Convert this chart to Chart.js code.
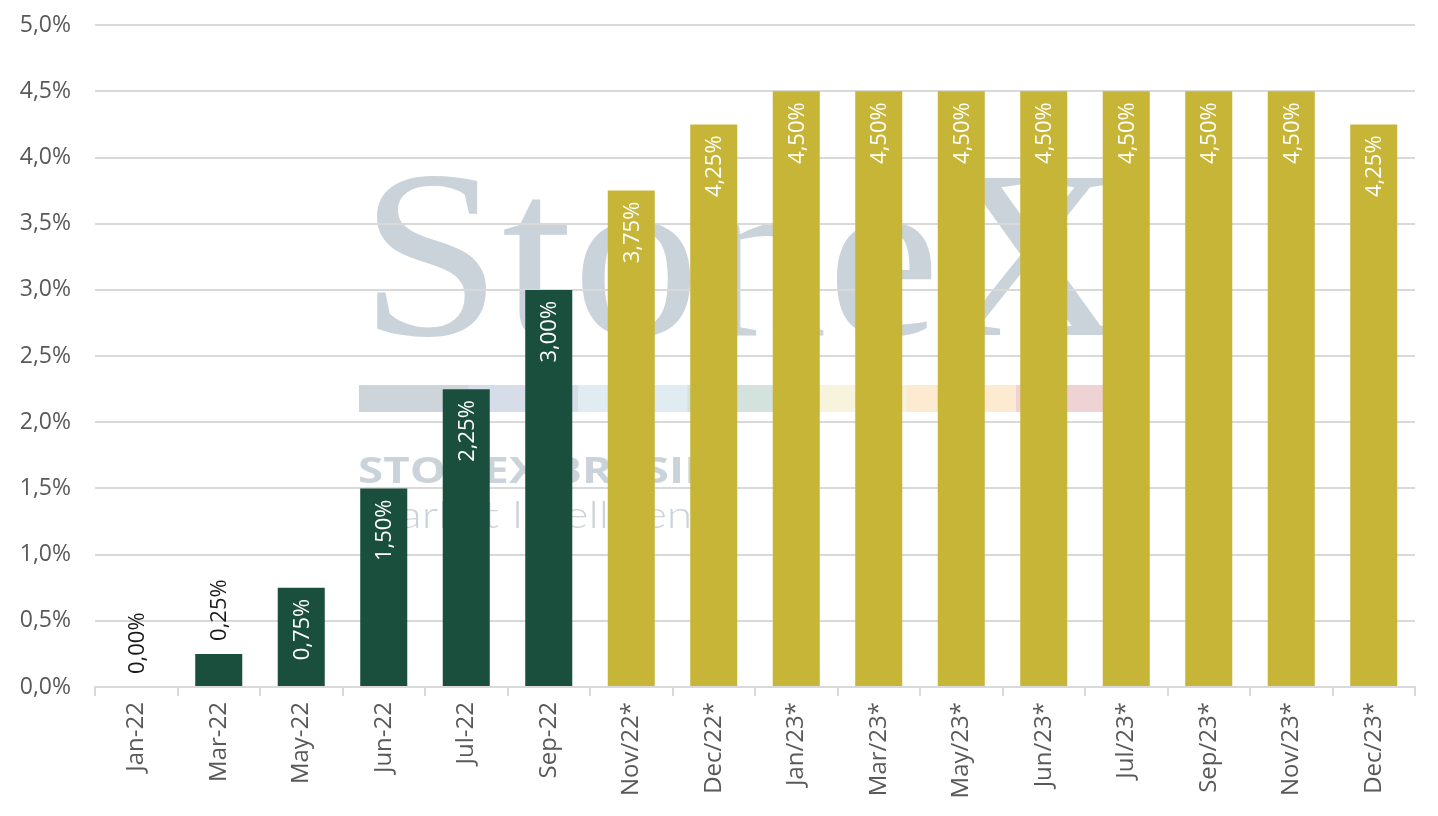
<!DOCTYPE html>
<html>
<head>
<meta charset="utf-8">
<script src="https://cdn.jsdelivr.net/npm/chart.js@4"></script>
<style>
  html, body { margin: 0; padding: 0; background: #fff; }
  #wrap { width: 1438px; height: 816px; }
</style>
</head>
<body>
<div id="wrap"><canvas id="rateChart" width="1438" height="816"></canvas></div>
<script>
// months (* = projection)
const months = ['Jan-22', 'Mar-22', 'May-22', 'Jun-22', 'Jul-22', 'Sep-22',
  'Nov/22*', 'Dec/22*', 'Jan/23*', 'Mar/23*', 'May/23*', 'Jun/23*',
  'Jul/23*', 'Sep/23*', 'Nov/23*', 'Dec/23*'];
const rates = [0.00, 0.25, 0.75, 1.50, 2.25, 3.00,
  3.75, 4.25, 4.50, 4.50, 4.50, 4.50, 4.50, 4.50, 4.50, 4.25];
const yTicks = [0, 0.5, 1, 1.5, 2, 2.5, 3, 3.5, 4, 4.5, 5];

const GREEN = '#1b4f3d';
const GOLD = '#c7b538';
const FONT = '"Open Sans", Lato, sans-serif';

function pct(v, d) {
  return v.toFixed(d).replace('.', ',') + '%';
}

// text squeezed/stretched to a given width
function fitText(c, txt, x, y, width) {
  const w = c.measureText(txt).width;
  c.save();
  c.translate(x, y);
  c.scale(width / w, 1);
  c.fillText(txt, 0, 0);
  c.restore();
}

// faint logo behind the plot
const watermark = {
  id: 'watermark',
  beforeDraw(chart) {
    const c = chart.ctx;
    const wm = '#cbd3da';
    c.save();
    c.fillStyle = wm;
    c.textBaseline = 'alphabetic';
    c.font = '240px "Liberation Serif", "DejaVu Serif", serif';
    fitText(c, 'StoneX', 360, 335, 764);

    const strip = ['#cdd4da', '#d6dde8', '#e0ebf2', '#d3e2dc', '#f7f3dd', '#fcebd0', '#efd3d4'];
    strip.forEach((col, i) => {
      c.fillStyle = col;
      c.fillRect(359 + i * 109.5, 385, 110, 27);
    });
    c.fillStyle = wm;
    c.font = 'bold 35px "Open Sans", sans-serif';
    fitText(c, 'STONEX BRASIL', 358, 483, 352);
    c.font = '300 37px Lato, sans-serif';
    fitText(c, 'Market Intelligence', 358, 528, 380);
    c.font = '14px sans-serif';
    c.fillText('®', 1122, 205);
    c.restore();
  }
};

// vertical value labels
const barLabels = {
  id: 'barLabels',
  afterDatasetsDraw(chart) {
    const c = chart.ctx;
    const meta = chart.getDatasetMeta(0);
    c.save();
    c.font = '22px ' + FONT;
    c.textBaseline = 'middle';
    meta.data.forEach((bar, i) => {
      const v = rates[i];
      const inside = v >= 0.5;
      c.save();
      if (inside) {
        c.translate(bar.x, bar.y + 11);
        c.rotate(-Math.PI / 2);
        c.textAlign = 'right';
        c.fillStyle = '#ffffff';
      } else {
        c.translate(bar.x, bar.y - 13);
        c.rotate(-Math.PI / 2);
        c.textAlign = 'left';
        c.fillStyle = '#1a1a1a';
      }
      c.fillText(pct(v, 2), 0, 1);
      c.restore();
    });
    c.restore();
  }
};

const ctx = document.getElementById('rateChart').getContext('2d');
new Chart(ctx, {
  type: 'bar',
  data: {
    labels: months,
    datasets: [{
      data: rates,
      backgroundColor: months.map(m => m.endsWith('*') ? GOLD : GREEN),
      barPercentage: 0.57,
      categoryPercentage: 1.0,
      borderWidth: 0
    }]
  },
  options: {
    responsive: false,
    animation: false,
    devicePixelRatio: 1,
    layout: { padding: { top: 0, right: 23, bottom: 0, left: 0 } },
    plugins: {
      legend: { display: false },
      tooltip: { enabled: false }
    },
    scales: {
      x: {
        offset: true,
        grid: {
          offset: true,
          drawOnChartArea: false,
          drawTicks: true,
          tickLength: 9,
          color: '#d9d9d9',
          lineWidth: 2
        },
        border: { display: true, color: '#d9d9d9', width: 2 },
        ticks: {
          color: '#595959',
          font: { family: FONT, size: 24 },
          minRotation: 90,
          maxRotation: 90,
          padding: 6,
          autoSkip: false
        },
        afterFit(scale) { scale.height = 129; }
      },
      y: {
        min: 0,
        max: 5,
        afterBuildTicks(scale) { scale.ticks = yTicks.map(v => ({ value: v })); },
        grid: { color: '#d9d9d9', lineWidth: 2, drawTicks: false },
        border: { display: false },
        ticks: {
          color: '#595959',
          font: { family: FONT, size: 23, lineHeight: 0.1 },
          padding: 24,
          callback: v => pct(v, 1)
        },
        afterFit(scale) { scale.width = 95; }
      }
    }
  },
  plugins: [watermark, barLabels]
});
</script>
</body>
</html>
